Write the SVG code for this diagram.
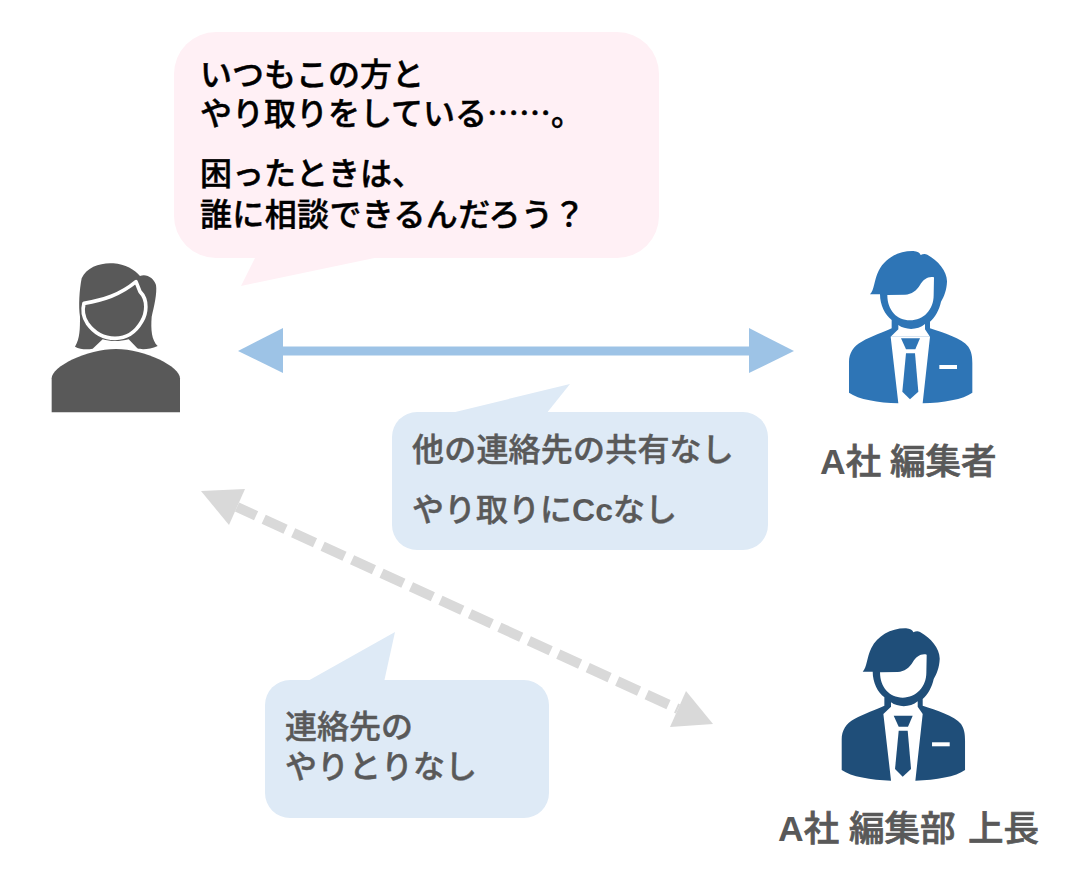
<svg xmlns="http://www.w3.org/2000/svg" width="1082" height="872" viewBox="0 0 1082 872">
<style>
text{font-family:"Noto Sans CJK JP","Noto Sans",sans-serif;font-size:32px;font-weight:500;stroke-width:.45px}
.k{fill:#000;stroke:#000}.g{fill:#595959;stroke:#595959}
.l{font-size:35.5px;font-weight:500;stroke-width:.7px}
.lat{font-family:"Liberation Sans",Arial,sans-serif;font-weight:700;stroke:none}
.pink{fill:#FFF0F5}.blue{fill:#DEEAF6}
</style>
<defs>
<g id="man">
<path fill-rule="evenodd" d="M120,163C133,150 132,120 146,92C165,55 205,32 250,33C262,34 270,38 272,45C278,42 285,40 292,44C325,62 352,95 351,125C350,150 342,170 333,185C328,210 315,232 300,245L300,265C340,278 395,295 415,320C425,335 427,350 427,370L427,458C400,478 340,488 278,490L300,290L182,290L205,490C145,488 85,478 57,458L57,365C57,340 70,318 95,305C125,288 160,277 185,265L185,240C165,225 150,195 150,163ZM172,165C172,210 200,241 240,241C280,241 311,210 311,165L312,112C295,108 280,118 270,135C260,152 245,163 225,164Z"/>
<path fill="#fff" d="M205,255C225,270 262,272 285,252L285,268L300,290L182,290L205,268Z"/>
<path d="M213,295H270L256,328H228Z"/>
<path d="M228,340H255L265,455L240,478L217,455Z"/>
<rect x="328" y="375" width="53" height="12" fill="#fff"/>
</g>
</defs>
<g id="connectors">
<g id="arrow-editor">
<line x1="280" y1="351" x2="752" y2="351" stroke="#9DC3E6" stroke-width="9"/>
<polygon points="238,351 283,328 283,373" fill="#9DC3E6"/>
<polygon points="794,351 749,328 749,373" fill="#9DC3E6"/>
</g>
<g id="arrow-boss">
<line x1="237" y1="507" x2="678" y2="709" stroke="#D9D9D9" stroke-width="10" stroke-dasharray="24 8.4" stroke-dashoffset="3"/>
<polygon points="201,491 245,489 229,525" fill="#D9D9D9"/>
<polygon points="713,724 686,691 670,727" fill="#D9D9D9"/>
</g>
</g>
<g id="bubble-pink">
<rect class="pink" x="174" y="32" width="485" height="226" rx="42"/>
<polygon class="pink" points="256,256 241,286 384,256"/>
<text class="k" x="200" y="86">いつもこの方と</text>
<text class="k" x="200" y="125">やり取りをしている……。</text>
<text class="k" x="200" y="185">困ったときは、</text>
<text class="k" x="200" y="226" letter-spacing=".35">誰に相談できるんだろう？</text>
</g>
<g id="bubble-blue-1">
<rect class="blue" x="392" y="412" width="376" height="138" rx="25"/>
<polygon class="blue" points="447,414 570,384 546,414"/>
<text class="g" x="412" y="461" letter-spacing=".2">他の連絡先の共有なし</text>
<text class="g" x="412" y="521">やり取りに<tspan class="lat">Cc</tspan>なし</text>
</g>
<g id="bubble-blue-2">
<rect class="blue" x="265" y="680" width="284" height="138" rx="25"/>
<polygon class="blue" points="306,682 395,632 384,682"/>
<text class="g" x="285" y="738">連絡先の</text>
<text class="g" x="285" y="778">やりとりなし</text>
</g>
<g id="node-woman">
<g transform="translate(30,250) scale(.33333)" fill="#595959">
<path d="M135,290C150,265 150,235 150,200C145,170 148,120 155,85C170,50 215,37 250,40C285,42 315,60 330,78C350,70 372,85 378,105C382,130 372,170 365,200C362,240 365,270 383,288C360,298 335,300 322,295L296,268C270,275 240,275 218,268L188,296C170,300 150,298 135,290Z"/>
<path d="M162,160C220,150 270,135 318,95L330,125C355,150 350,190 335,215C315,250 285,265 255,265C215,265 190,245 172,220C155,195 158,175 162,160Z" stroke="#fff" stroke-width="11" stroke-linejoin="round"/>
<path d="M65,487V385C65,350 170,297 258,297C345,297 450,350 450,385V487Z"/>
</g>
</g>
<g id="node-editor">
<use href="#man" fill="#2E75B6" transform="translate(830,240) scale(.33333)"/>
<text class="g l" x="820" y="474"><tspan class="lat">A</tspan>社 <tspan x="890">編集者</tspan></text>
</g>
<g id="node-boss">
<use href="#man" fill="#1F4E79" transform="translate(822.7,617.3) scale(.33333)"/>
<text class="g l" x="778" y="841"><tspan class="lat">A</tspan>社 <tspan x="849">編集部</tspan> <tspan x="968">上長</tspan></text>
</g>
</svg>
